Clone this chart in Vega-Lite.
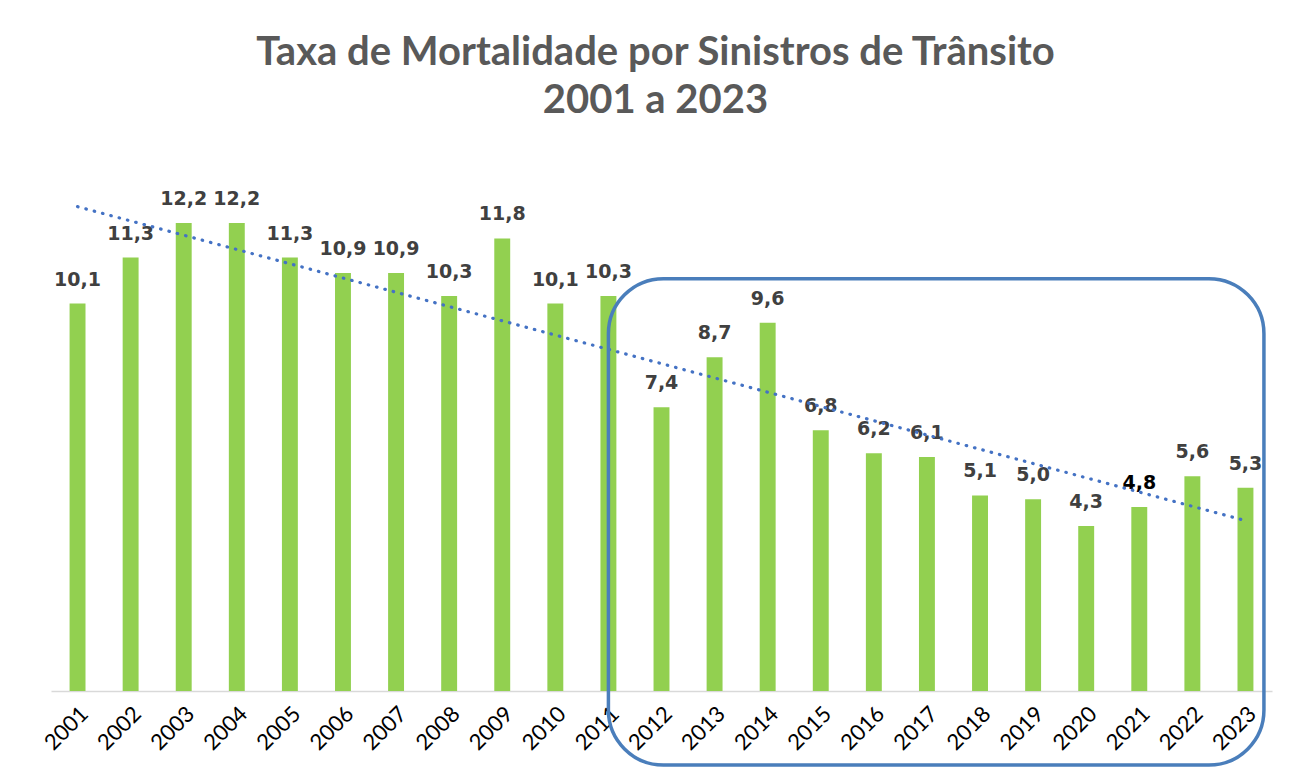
{
  "$schema": "https://vega.github.io/schema/vega-lite/v6.json",
  "width": 1221,
  "height": 537,
  "autosize": {"type": "none"},
  "padding": {"left": 51, "top": 154, "right": 17, "bottom": 85},
  "background": "#ffffff",
  "title": {
    "text": ["Taxa de Mortalidade por Sinistros de Trânsito", "2001 a 2023"],
    "font": "Lato",
    "fontSize": 40,
    "fontWeight": "bold",
    "color": "#595959",
    "lineHeight": 48,
    "offset": 33,
    "anchor": "middle",
    "dx": -6
  },
  "config": {
    "view": {"stroke": null},
    "locale": {"number": {"decimal": ",", "thousands": ".", "grouping": [3], "currency": ["R$ ", ""]}}
  },
  "data": {
    "values": [
      {"year": 2001, "value": 10.1},
      {"year": 2002, "value": 11.3},
      {"year": 2003, "value": 12.2},
      {"year": 2004, "value": 12.2},
      {"year": 2005, "value": 11.3},
      {"year": 2006, "value": 10.9},
      {"year": 2007, "value": 10.9},
      {"year": 2008, "value": 10.3},
      {"year": 2009, "value": 11.8},
      {"year": 2010, "value": 10.1},
      {"year": 2011, "value": 10.3},
      {"year": 2012, "value": 7.4},
      {"year": 2013, "value": 8.7},
      {"year": 2014, "value": 9.6},
      {"year": 2015, "value": 6.8},
      {"year": 2016, "value": 6.2},
      {"year": 2017, "value": 6.1},
      {"year": 2018, "value": 5.1},
      {"year": 2019, "value": 5.0},
      {"year": 2020, "value": 4.3},
      {"year": 2021, "value": 4.8},
      {"year": 2022, "value": 5.6},
      {"year": 2023, "value": 5.3}
    ]
  },
  "layer": [
    {
      "mark": {"type": "bar", "color": "#92D050"},
      "encoding": {
        "x": {
          "field": "year",
          "type": "ordinal",
          "scale": {"paddingInner": 0.7, "paddingOuter": 0.35},
          "axis": {
            "title": null,
            "labelAngle": -45,
            "labelFont": "Lato",
            "labelFontSize": 22,
            "labelColor": "#000000",
            "labelPadding": 12,
            "ticks": false,
            "domainColor": "#d9d9d9",
            "domainWidth": 1.5
          }
        },
        "y": {
          "field": "value",
          "type": "quantitative",
          "scale": {"domain": [0, 14]},
          "axis": null
        }
      }
    },
    {
      "mark": {"type": "text", "baseline": "alphabetic", "dy": -18, "font": "DejaVu Sans", "fontSize": 19, "fontWeight": "bold"},
      "encoding": {
        "x": {"field": "year", "type": "ordinal", "bandPosition": 0.5},
        "y": {"field": "value", "type": "quantitative"},
        "text": {"field": "value", "type": "quantitative", "format": ".1f"},
        "color": {
          "condition": {"test": "datum.year == 2021", "value": "#000000"},
          "value": "#404040"
        }
      }
    },
    {
      "transform": [{"regression": "value", "on": "year"}],
      "mark": {"type": "line", "color": "#4472C4", "strokeWidth": 3.2, "strokeDash": [0.5, 8.1], "strokeCap": "round"},
      "encoding": {
        "x": {"field": "year", "type": "ordinal", "bandPosition": 0.5},
        "y": {"field": "value", "type": "quantitative"}
      }
    },
    {
      "data": {"values": [{"from": 2011, "to": 2023, "top": 10.75, "bottom": -1.93}]},
      "mark": {"type": "rect", "fill": "transparent", "stroke": "#4A7EBB", "strokeWidth": 3.5, "cornerRadius": 55},
      "encoding": {
        "x": {"field": "from", "type": "ordinal", "bandPosition": 0.5},
        "x2": {"field": "to", "bandPosition": 1.66},
        "y": {"field": "top", "type": "quantitative"},
        "y2": {"field": "bottom"}
      }
    }
  ]
}
